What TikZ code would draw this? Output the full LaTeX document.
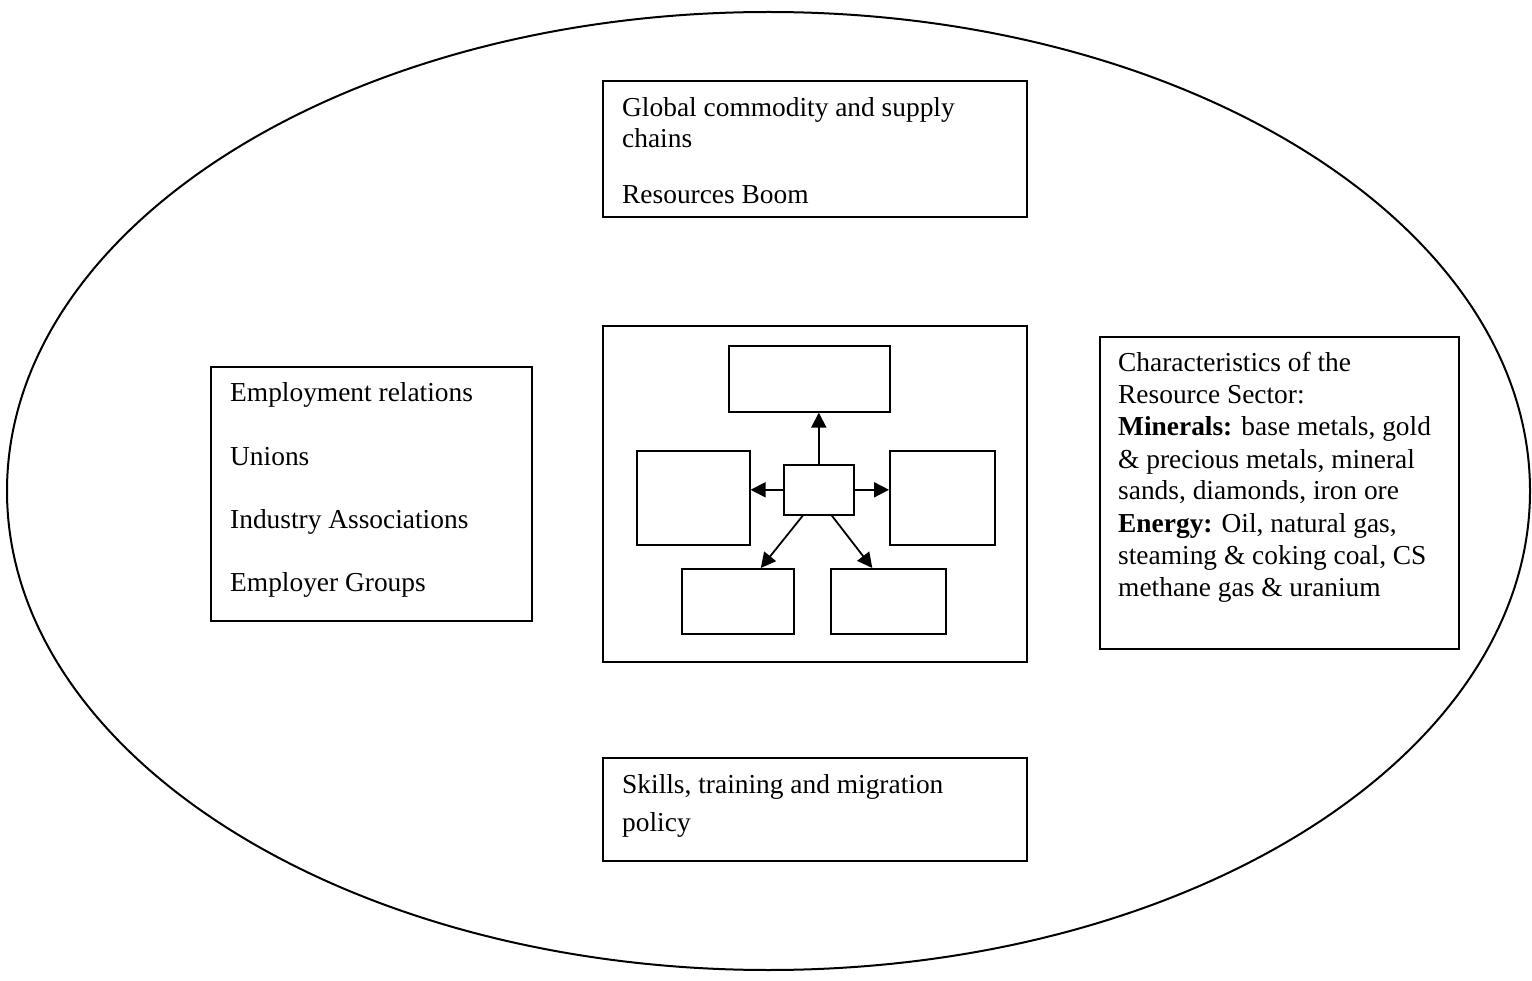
\documentclass[tikz,border=0pt]{standalone}
\usepackage{fontspec}
\setmainfont{Liberation Serif}
\usetikzlibrary{arrows.meta}
\begin{document}
\begin{tikzpicture}[x=1pt,y=-1pt,
  box/.style={draw, line width=1.6pt, rectangle, inner sep=0pt, anchor=north west},
  txt/.style={font=\fontsize{27.4}{32}\selectfont, inner sep=0pt, anchor=base west},
  arr/.style={line width=1.8pt, -{Triangle[length=15pt,width=15pt]}}]
\useasboundingbox (0,0) rectangle (1532,981);
\draw[line width=2pt] (768.5,491) ellipse [x radius=761.5, y radius=479];
% outer boxes
\node[box, minimum width=424, minimum height=136] (global) at (602,80) {};
\node[box, minimum width=321, minimum height=254] (emp) at (210,366) {};
\node[box, minimum width=424, minimum height=336] (centre) at (602,325) {};
\node[box, minimum width=359, minimum height=312] (char) at (1099,336) {};
\node[box, minimum width=424, minimum height=103] (skills) at (602,757) {};
% top box text
\node[txt] (g1) at (622,117) {Global commodity and supply};
\node[txt] (g2) at (622,148) {chains};
\node[txt] (g3) at (622,204) {Resources Boom};
% left box text
\node[txt] (e1) at (230,402) {Employment relations};
\node[txt] (e2) at (230,465) {Unions};
\node[txt] (e3) at (230,528) {Industry Associations};
\node[txt] (e4) at (230,591) {Employer Groups};
% right box text
\node[txt] (c1) at (1118,372) {Characteristics of the};
\node[txt] (c2) at (1118,404) {Resource Sector:};
\node[txt] (c3) at (1118,436) {\textbf{Minerals:} base metals, gold};
\node[txt] (c4) at (1118,468) {\& precious metals, mineral};
\node[txt] (c5) at (1118,500) {sands, diamonds, iron ore};
\node[txt] (c6) at (1118,532) {\textbf{Energy:} Oil, natural gas,};
\node[txt] (c7) at (1118,564) {steaming \& coking coal, CS};
\node[txt] (c8) at (1118,596) {methane gas \& uranium};
% bottom box text
\node[txt] (s1) at (622,793) {Skills, training and migration};
\node[txt] (s2) at (622,831) {policy};
% inner diagram
\node[box, minimum width=161, minimum height=66] (itop) at (728,345) {};
\node[box, minimum width=113, minimum height=94] (ileft) at (636,450) {};
\node[box, minimum width=70, minimum height=50] (imid) at (783,464) {};
\node[box, minimum width=105, minimum height=94] (iright) at (889,450) {};
\node[box, minimum width=112, minimum height=65] (ibl) at (681,568) {};
\node[box, minimum width=115, minimum height=65] (ibr) at (830,568) {};
\draw[arr] (imid.north) -- (itop.south -| imid.north);
\draw[arr] (imid.west) -- (ileft.east |- imid.west);
\draw[arr] (imid.east) -- (iright.west |- imid.east);
\draw[arr] ([xshift=-16pt]imid.south) -- ([xshift=23pt]ibl.north);
\draw[arr] ([xshift=13pt]imid.south) -- ([xshift=-16pt]ibr.north);
\end{tikzpicture}
\end{document}
